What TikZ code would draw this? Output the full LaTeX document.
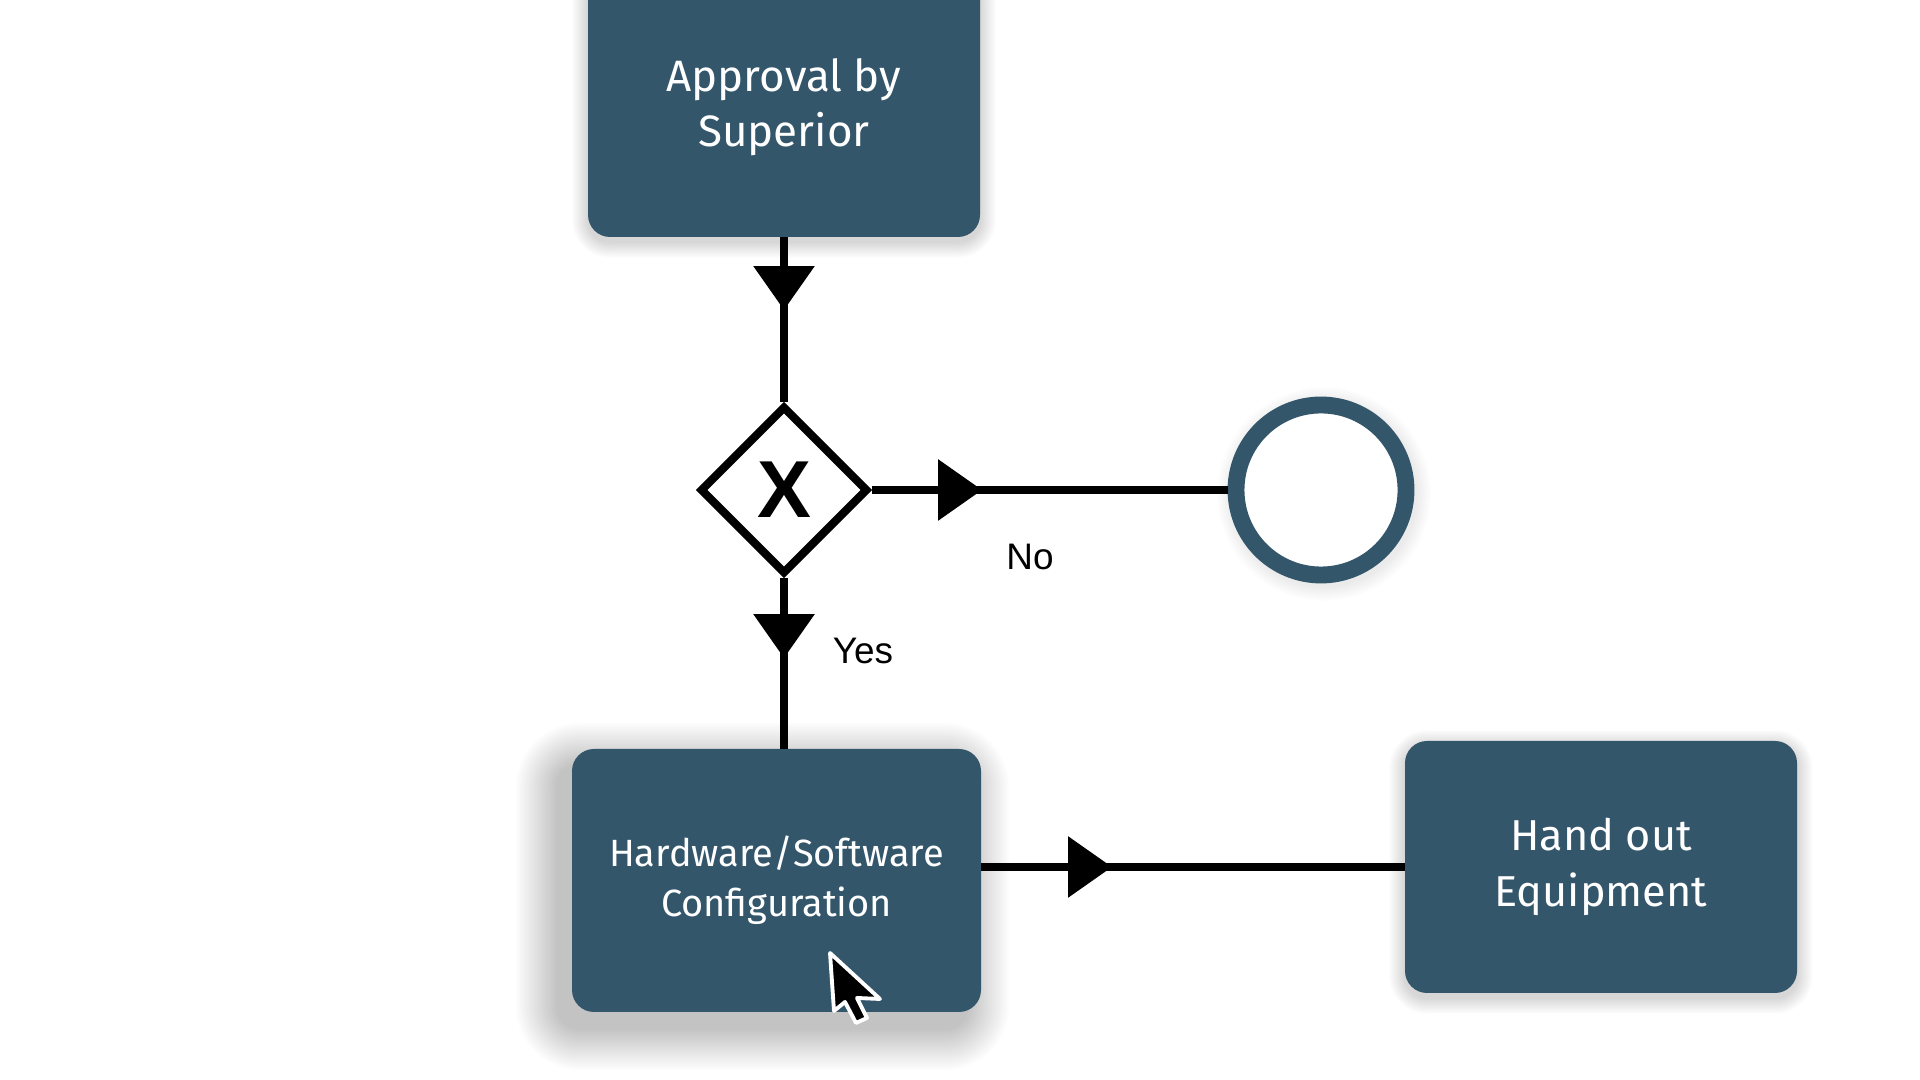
\documentclass[tikz,border=0pt]{standalone}
\usepackage{fontspec}
\newfontfamily\boxfont{Fira Sans}
\newfontfamily\labelfont{Liberation Sans}
\usetikzlibrary{positioning,arrows.meta,calc,shapes.geometric,decorations.markings,backgrounds}
\definecolor{taskblue}{HTML}{34566B}

% soft shadow behind a task box: node, xshift, yshift, spread (cm), opacity per layer
\newcommand{\softshadow}[5]{%
 \foreach \s [evaluate=\s as \rc using {0.22+#4*\s/20}] in {1,...,20}
  \fill[black,opacity=#5,rounded corners=\rc cm]
   ($(#1.south west)+(#2-#4*\s/20,#3-#4*\s/20)$) rectangle ($(#1.north east)+(#2+#4*\s/20,#3+#4*\s/20)$);}

\begin{document}
\begin{tikzpicture}[
 task/.style={rectangle,rounded corners=0.22cm,fill=taskblue,text=white,align=center,inner sep=0pt,outer sep=0pt},
 gateway/.style={diamond,draw=black,line width=2.3pt,fill=white,minimum size=1.68cm,inner sep=0pt,font=\labelfont\bfseries\fontsize{23}{23}\selectfont},
 endevent/.style={circle,draw=taskblue,line width=4.8pt,fill=white,minimum size=1.70cm,inner sep=0pt},
 flow/.style={line width=2pt},
 midarrow/.style={postaction={decorate},decoration={markings,mark=at position #1 with {\arrow{Triangle[length=12.5pt,width=17pt]}}}},
 flowlabel/.style={font=\labelfont\fontsize{10.5}{12}\selectfont},
 cursor/.style={fill=black,draw=white,line width=1.1pt,line join=round}]
\useasboundingbox (0,0) rectangle (19.2,10.8);

% Tasks, gateway and end event.
\node[task,minimum width=3.92cm,minimum height=2.60cm,font=\boxfont\fontsize{12.5}{15.6}\selectfont] (approve) at (7.84,9.73) {Approval by\\Superior};
\node[gateway] (xor) at (7.84,5.90) {X};
\node[endevent] (stop) at (13.21,5.90) {};
\node[task,minimum width=4.09cm,minimum height=2.63cm,font=\boxfont\fontsize{10.8}{14.2}\selectfont] (config) at (7.765,1.995) {Hardware/Software\\Configuration};
\node[task,minimum width=3.92cm,minimum height=2.52cm,font=\boxfont\fontsize{12.3}{15.9}\selectfont] (handout) at (16.01,2.13) {Hand out\\Equipment};

% Page and shadows.
\begin{scope}[on background layer]
\fill[white] (0,0) rectangle (19.2,10.8);
\softshadow{approve}{0}{-0.05}{0.16}{0.009}
\softshadow{config}{-0.14}{-0.16}{0.42}{0.012}
\softshadow{handout}{0}{-0.05}{0.16}{0.009}
\foreach \s in {1,...,10}
 \fill[black,opacity=0.008] ($(stop)+(0.03,-0.04)$) circle ({0.92+0.15*\s/10});
\end{scope}

% Sequence flows.
\draw[flow,midarrow=0.73cm] (approve.south) -- (xor.north);
\draw[flow,midarrow=1.10cm] (xor.east) -- (stop.west);
\draw[flow,midarrow=0.80cm] (xor.south) -- (xor.south |- config.north);
\draw[flow,midarrow=1.31cm] (handout.west -| config.east) -- (handout.west);

\node[flowlabel] (no) at (10.30,5.23) {No};
\node[flowlabel] (yes) at (8.63,4.29) {Yes};

% Mouse pointer.
\begin{scope}[shift={(8.30,1.27)},x=0.01cm,y=-0.01cm]
\draw[cursor] (0,0) -- (4,58) -- (15,49) -- (26,70) -- (37,65) -- (27,45) -- (50,46) -- cycle;
\end{scope}
\end{tikzpicture}
\end{document}
